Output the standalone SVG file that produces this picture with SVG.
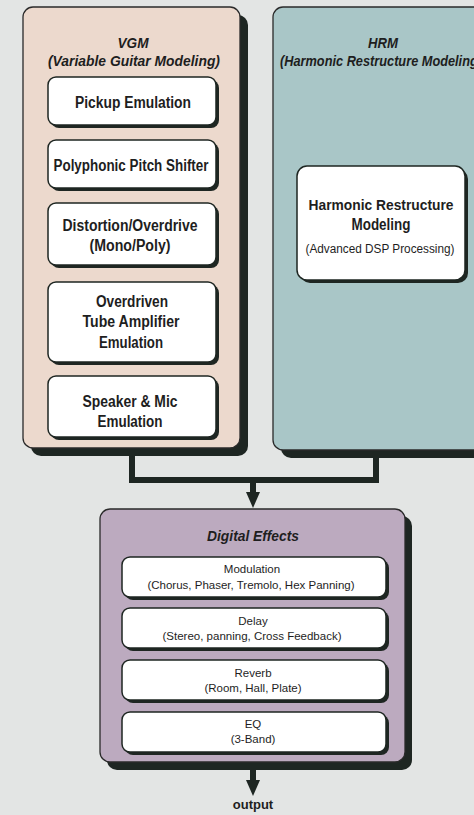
<svg xmlns="http://www.w3.org/2000/svg" width="474" height="815" viewBox="0 0 474 815">
  <style>
    .bg { fill: #e3e5e4; }
    .shadow { fill: #1e2622; }
    .vgm { fill: #ecd9cd; stroke: #2a2a2a; stroke-width: 1.3; }
    .hrm { fill: #a9c6c7; stroke: #2a2a2a; stroke-width: 1.3; }
    .dfx { fill: #bcaabf; stroke: #2a2a2a; stroke-width: 1.3; }
    .box { fill: #ffffff; stroke: #1e2622; stroke-width: 1.5; }
    .title { font-family: "Liberation Sans", Arial, sans-serif; font-weight: bold; font-style: italic; font-size: 15px; fill: #1e1e1e; text-anchor: middle; }
    .lbl { font-family: "Liberation Sans", Arial, sans-serif; font-weight: bold; font-size: 16px; fill: #1e1e1e; text-anchor: middle; }
    .sm { font-family: "Liberation Sans", Arial, sans-serif; font-size: 11.5px; fill: #1e1e1e; text-anchor: middle; }
    .conn { fill: none; stroke: #1e2622; stroke-width: 6; stroke-linejoin: miter; stroke-linecap: butt; }
    .head { fill: #1e2622; }
  </style>
  <rect class="bg" x="0" y="0" width="474" height="815"/>

  <g id="vgm">
    <rect class="shadow" x="31" y="15" width="217" height="441" rx="10"/>
    <rect class="vgm" x="23" y="7" width="217" height="441" rx="10"/>
    <text class="title" x="133" y="48" textLength="31" lengthAdjust="spacingAndGlyphs">VGM</text>
    <text class="title" x="134" y="66" textLength="172" lengthAdjust="spacingAndGlyphs">(Variable Guitar Modeling)</text>
  </g>

  <g id="pickup">
    <rect class="shadow" x="51" y="80" width="168" height="48" rx="8"/>
    <rect class="box" x="48" y="77" width="168" height="48" rx="8"/>
    <text class="lbl" x="133" y="108" textLength="116" lengthAdjust="spacingAndGlyphs">Pickup Emulation</text>
  </g>

  <g id="pitch">
    <rect class="shadow" x="51" y="143" width="168" height="48" rx="8"/>
    <rect class="box" x="48" y="140" width="168" height="48" rx="8"/>
    <text class="lbl" x="131" y="171" textLength="155" lengthAdjust="spacingAndGlyphs">Polyphonic Pitch Shifter</text>
  </g>

  <g id="distortion">
    <rect class="shadow" x="51" y="206" width="168" height="62" rx="8"/>
    <rect class="box" x="48" y="203" width="168" height="62" rx="8"/>
    <text class="lbl" x="130" y="231" textLength="135" lengthAdjust="spacingAndGlyphs">Distortion/Overdrive</text>
    <text class="lbl" x="130" y="251" textLength="81" lengthAdjust="spacingAndGlyphs">(Mono/Poly)</text>
  </g>

  <g id="tube">
    <rect class="shadow" x="51" y="285" width="168" height="80" rx="8"/>
    <rect class="box" x="48" y="282" width="168" height="80" rx="8"/>
    <text class="lbl" x="132" y="307" textLength="72" lengthAdjust="spacingAndGlyphs">Overdriven</text>
    <text class="lbl" x="131" y="327" textLength="97" lengthAdjust="spacingAndGlyphs">Tube Amplifier</text>
    <text class="lbl" x="131" y="348" textLength="64" lengthAdjust="spacingAndGlyphs">Emulation</text>
  </g>

  <g id="speaker">
    <rect class="shadow" x="51" y="379" width="168" height="61" rx="8"/>
    <rect class="box" x="48" y="376" width="168" height="61" rx="8"/>
    <text class="lbl" x="130" y="407" textLength="95" lengthAdjust="spacingAndGlyphs">Speaker &amp; Mic</text>
    <text class="lbl" x="130" y="427" textLength="65" lengthAdjust="spacingAndGlyphs">Emulation</text>
  </g>

  <g id="hrm">
    <rect class="shadow" x="281" y="15" width="230" height="443" rx="10"/>
    <rect class="hrm" x="273" y="7" width="230" height="443" rx="10"/>
    <text class="title" x="383" y="48" textLength="30" lengthAdjust="spacingAndGlyphs">HRM</text>
    <text class="title" x="280" y="66" style="text-anchor:start" textLength="202" lengthAdjust="spacingAndGlyphs">(Harmonic Restructure Modeling)</text>
  </g>

  <g id="hrm-box">
    <rect class="shadow" x="300" y="169" width="168" height="114" rx="10"/>
    <rect class="box" x="297" y="166" width="168" height="114" rx="10"/>
    <text class="lbl" x="381" y="210" style="font-size:15px" textLength="145" lengthAdjust="spacingAndGlyphs">Harmonic Restructure</text>
    <text class="lbl" x="381" y="230" textLength="59" lengthAdjust="spacingAndGlyphs">Modeling</text>
    <text class="sm" x="380" y="253" style="font-size:12.5px" textLength="149" lengthAdjust="spacingAndGlyphs">(Advanced DSP Processing)</text>
  </g>

  <g id="connectors">
    <path class="conn" d="M132 456 V480 H376 V458"/>
    <path class="conn" d="M253 480 V494"/>
    <polygon class="head" points="246,492 260,492 253,508"/>
    <path class="conn" d="M253 769 V782"/>
    <polygon class="head" points="246,780 260,780 253,796"/>
  </g>

  <g id="digital-effects">
    <rect class="shadow" x="107" y="516" width="305" height="254" rx="10"/>
    <rect class="dfx" x="100" y="509" width="305" height="253" rx="10"/>
    <text class="title" x="253" y="541" textLength="92" lengthAdjust="spacingAndGlyphs">Digital Effects</text>
  </g>

  <g id="modulation">
    <rect class="shadow" x="125" y="560" width="264" height="40" rx="8"/>
    <rect class="box" x="122" y="557" width="264" height="40" rx="8"/>
    <text class="sm" x="252" y="573">Modulation</text>
    <text class="sm" x="251" y="589">(Chorus, Phaser, Tremolo, Hex Panning)</text>
  </g>

  <g id="delay">
    <rect class="shadow" x="125" y="611" width="264" height="40" rx="8"/>
    <rect class="box" x="122" y="608" width="264" height="40" rx="8"/>
    <text class="sm" x="253" y="625">Delay</text>
    <text class="sm" x="252" y="640">(Stereo, panning, Cross Feedback)</text>
  </g>

  <g id="reverb">
    <rect class="shadow" x="125" y="663" width="264" height="40" rx="8"/>
    <rect class="box" x="122" y="660" width="264" height="40" rx="8"/>
    <text class="sm" x="253" y="677">Reverb</text>
    <text class="sm" x="253" y="692">(Room, Hall, Plate)</text>
  </g>

  <g id="eq">
    <rect class="shadow" x="125" y="715" width="264" height="40" rx="8"/>
    <rect class="box" x="122" y="712" width="264" height="40" rx="8"/>
    <text class="sm" x="253" y="728">EQ</text>
    <text class="sm" x="253" y="743">(3-Band)</text>
  </g>

  <g id="output">
    <text x="253" y="809" style="font-family:'Liberation Sans', Arial, sans-serif; font-weight:bold; font-size:13px; fill:#1e1e1e; text-anchor:middle">output</text>
  </g>
</svg>
